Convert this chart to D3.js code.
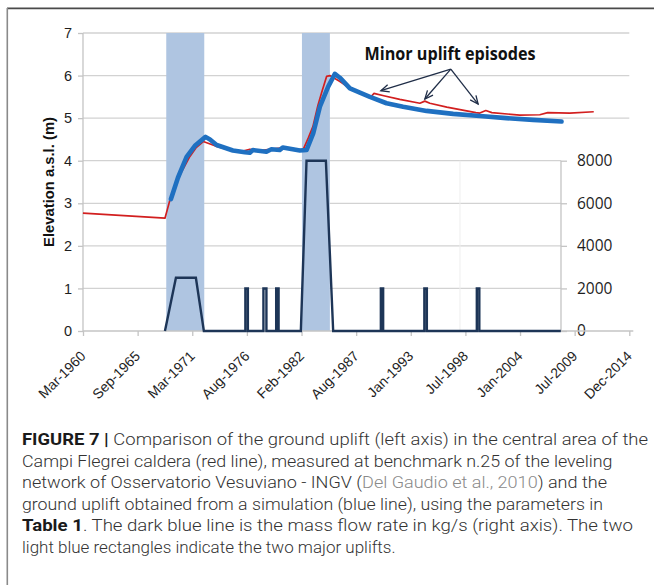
<!DOCTYPE html>
<html>
<head>
<meta charset="utf-8">
<script src="https://cdn.jsdelivr.net/npm/d3@7"></script>
<style>
  html, body { margin: 0; padding: 0; background: #fff; }
  svg { display: block; }
</style>
</head>
<body>
<svg id="fig" width="654" height="585"></svg>
<script>
// Ground uplift at Campi Flegrei: measured (red), simulated (blue), mass flow rate (dark blue)

// Measured elevation (benchmark n.25), decimal year / metres
const redYears = [1960.21, 1968.43, 1968.93, 1969.53, 1970.23, 1970.93, 1971.53, 1972.27, 1973.44, 1974.44,
  1975.62, 1976.15, 1976.95, 1977.95, 1978.95, 1980.16, 1981.46, 1982.26, 1982.79, 1983.26,
  1983.76, 1984.16, 1984.63, 1984.96, 1985.97, 1986.97, 1987.97, 1989.07, 1989.37, 1990.47,
  1991.97, 1993.98, 1994.48, 1994.98, 1996.68, 1999.59, 1999.99, 2000.59, 2001.19, 2004.0,
  2006.0, 2006.8, 2009.0, 2011.41];
const redElev = [2.77, 2.65, 3.08, 3.5, 3.8, 4.1, 4.3, 4.45, 4.35, 4.28,
  4.21, 4.22, 4.27, 4.24, 4.27, 4.30, 4.27, 4.25, 4.53, 4.80,
  5.3, 5.62, 5.98, 6.0, 5.86, 5.70, 5.58, 5.50, 5.58, 5.52,
  5.44, 5.35, 5.40, 5.35, 5.26, 5.13, 5.12, 5.18, 5.13, 5.07,
  5.08, 5.13, 5.12, 5.15];

// Simulated elevation, decimal year / metres
const blueYears = [1969.03, 1969.73, 1970.6, 1971.43, 1972.5, 1972.94, 1973.61, 1975.24, 1976.44, 1976.94,
  1977.24, 1978.6, 1979.1, 1979.94, 1980.24, 1981.95, 1982.62, 1983.29, 1983.96, 1984.79,
  1985.46, 1985.96, 1986.97, 1988.97, 1990.64, 1992.3, 1994.65, 1997.32, 1999.99, 2002.66,
  2005.33, 2008.18];
const blueElev = [3.1, 3.6, 4.09, 4.35, 4.56, 4.5, 4.37, 4.24, 4.2, 4.19,
  4.25, 4.21, 4.27, 4.25, 4.31, 4.24, 4.25, 4.64, 5.27, 5.74,
  6.04, 5.95, 5.70, 5.50, 5.35, 5.27, 5.17, 5.10, 5.05, 5.00,
  4.96, 4.92];

// Mass flow rate (kg/s), decimal year
const flowYears = [1968.43, 1969.53, 1971.53, 1972.33,
  1976.49, 1976.49, 1976.74, 1976.74,
  1978.30, 1978.30, 1978.60, 1978.60,
  1979.58, 1979.58, 1979.82, 1979.82,
  1982.05, 1982.62, 1984.56, 1985.29,
  1990.07, 1990.07, 1990.30, 1990.30,
  1994.43, 1994.43, 1994.68, 1994.68,
  1999.69, 1999.69, 1999.94, 1999.94,
  2008.11];
const flowRate = [0, 2500, 2500, 0,
  0, 2000, 2000, 0,
  0, 2000, 2000, 0,
  0, 2000, 2000, 0,
  0, 8000, 8000, 0,
  0, 2000, 2000, 0,
  0, 2000, 2000, 0,
  0, 2000, 2000, 0,
  0];

// Major uplift periods (decimal years)
const bandStart = [1968.56, 1982.16];
const bandEnd = [1972.37, 1984.96];

// Axis ticks
const xTickLabels = ["Mar-1960", "Sep-1965", "Mar-1971", "Aug-1976", "Feb-1982", "Aug-1987",
  "Jan-1993", "Jul-1998", "Jan-2004", "Jul-2009", "Dec-2014"];
const leftTicks = [0, 1, 2, 3, 4, 5, 6, 7];
const rightTicks = [0, 2000, 4000, 6000, 8000];

// Annotation: label and arrow targets, decimal year / metres
const noteText = "Minor uplift episodes";
const noteAt = [1997.0, 6.37];
const arrowFrom = [1997.08, 6.15];
const arrowToYears = [1990.07, 1994.48, 1999.82];
const arrowToElev = [5.645, 5.45, 5.33];

// Caption lines: [text, style] segments
const captionLines = [
  [["FIGURE 7 | ", "b"], ["Comparison of the ground uplift (left axis) in the central area of the", ""]],
  [["Campi Flegrei caldera (red line), measured at benchmark n.25 of the leveling", ""]],
  [["network of Osservatorio Vesuviano - INGV (", ""], ["Del Gaudio et al., 2010", "link"], [") and the", ""]],
  [["ground uplift obtained from a simulation (blue line), using the parameters in", ""]],
  [["Table 1", "b"], [".  The dark blue line is the mass flow rate in kg/s (right axis). The two", ""]],
  [["light blue rectangles indicate the two major uplifts.", ""]]
];
const captionWidths = [626, 590.5, 585, 581, 611, null];

// ---------- layout ----------
const plotLeft = 83, plotRight = 629.3, plotTop = 33, plotBottom = 331;
const flowRight = 561, flowTop = 160.7;

function toDate(v) {
  const y = Math.floor(v);
  const s = Date.UTC(y, 0, 1), e = Date.UTC(y + 1, 0, 1);
  return new Date(s + (v - y) * (e - s));
}

const axisStart = new Date(Date.UTC(1960, 2, 20));
const axisEnd = d3.utcDay.offset(axisStart, 20000);
const x = d3.scaleUtc().domain([axisStart, axisEnd]).range([plotLeft, plotRight]);
const yL = d3.scaleLinear().domain([0, 7]).range([plotBottom, plotTop]);
const yR = d3.scaleLinear().domain([0, 8000]).range([plotBottom, flowTop]);
const xTickDates = xTickLabels.map((_, i) => d3.utcDay.offset(axisStart, 2000 * i));

const svg = d3.select("#fig");

// frame
svg.append("line").attr("x1", 7).attr("x2", 654).attr("y1", 8.3).attr("y2", 8.3)
  .attr("stroke", "#4a4a4a").attr("stroke-width", 1.8);
svg.append("line").attr("x1", 7.3).attr("x2", 7.3).attr("y1", 8).attr("y2", 585)
  .attr("stroke", "#8a8a8a").attr("stroke-width", 1.6);

// gridlines (upper ones span the full plot; lower ones stop at the flow axis)
const grid = svg.append("g");
leftTicks.filter(d => d > 0).forEach(d => {
  grid.append("line")
    .attr("x1", plotLeft).attr("x2", d >= 5 ? plotRight : flowRight)
    .attr("y1", yL(d)).attr("y2", yL(d))
    .attr("stroke", "#d2d2d2").attr("stroke-width", 1.3);
});
grid.append("line")
  .attr("x1", x(toDate(1998.0))).attr("x2", x(toDate(1998.0)))
  .attr("y1", flowTop).attr("y2", plotBottom)
  .attr("stroke", "#eeeeee").attr("stroke-width", 1);

// major uplift bands
svg.append("g").selectAll("rect").data(bandStart).join("rect")
  .attr("x", (d) => x(toDate(d)))
  .attr("width", (d, i) => x(toDate(bandEnd[i])) - x(toDate(d)))
  .attr("y", yL(7)).attr("height", yL(0) - yL(7))
  .attr("fill", "#afc5e1");

// left axis
const axL = svg.append("g").attr("transform", `translate(${plotLeft},0)`)
  .call(d3.axisLeft(yL).tickValues(leftTicks).tickSize(5).tickPadding(6).tickFormat(d3.format("d")));
axL.select(".domain").attr("stroke", "#c4c4c4").attr("stroke-width", 1.3).attr("d", `M-0,${plotTop}V${plotBottom}`);
axL.selectAll(".tick line").attr("stroke", "#c4c4c4").attr("stroke-width", 1.3);
axL.selectAll(".tick text").attr("font-family", "Liberation Sans, Arial, sans-serif")
  .attr("font-size", 14.5).attr("fill", "#1e1e1e");

// right axis (mass flow)
const axR = svg.append("g").attr("transform", `translate(${flowRight},0)`)
  .call(d3.axisRight(yR).tickValues(rightTicks).tickSize(6).tickPadding(10).tickFormat(d3.format("d")));
axR.select(".domain").attr("stroke", "#c4c4c4").attr("stroke-width", 1.3).attr("d", `M0,${flowTop}V${plotBottom}`);
axR.selectAll(".tick line").attr("stroke", "#c4c4c4").attr("stroke-width", 1.3);
axR.selectAll(".tick text").attr("font-family", "Open Sans, Noto Sans, sans-serif")
  .attr("font-size", 15.5).attr("fill", "#1e1e1e");

// bottom axis
const axB = svg.append("g").attr("transform", `translate(0,${plotBottom})`)
  .call(d3.axisBottom(x).tickValues(xTickDates).tickSize(5).tickFormat((d, i) => xTickLabels[i]));
axB.select(".domain").attr("stroke", "#c4c4c4").attr("stroke-width", 1.3)
  .attr("d", `M${plotLeft},0H${plotRight + 4}`);
axB.selectAll(".tick line").attr("stroke", "#c4c4c4").attr("stroke-width", 1.3);
axB.selectAll(".tick text")
  .attr("font-family", "Liberation Sans, Arial, sans-serif").attr("font-size", 14)
  .attr("fill", "#1e1e1e")
  .attr("text-anchor", "end").attr("dy", null).attr("y", 0)
  .attr("transform", "translate(3,26) rotate(-45)");

// left axis title
svg.append("text")
  .attr("transform", `translate(53.5,182) rotate(-90)`)
  .attr("text-anchor", "middle")
  .attr("font-family", "Liberation Sans, Arial, sans-serif").attr("font-weight", "bold")
  .attr("font-size", 14.8).attr("fill", "#111")
  .text("Elevation a.s.l. (m)");

// mass flow rate
const flowLine = d3.line().x((d, i) => x(toDate(flowYears[i]))).y(d => yR(d));
svg.append("path").datum(flowRate).attr("d", flowLine)
  .attr("fill", "none").attr("stroke", "#1d3557").attr("stroke-width", 2.4)
  .attr("stroke-linejoin", "miter");

// measured and simulated elevation
const redLine = d3.line().x((d, i) => x(toDate(redYears[i]))).y(d => yL(d));
const blueLine = d3.line().x((d, i) => x(toDate(blueYears[i]))).y(d => yL(d));
svg.append("path").datum(redElev).attr("d", redLine)
  .attr("fill", "none").attr("stroke", "#d21f1f").attr("stroke-width", 1.7)
  .attr("stroke-linejoin", "round");
svg.append("path").datum(blueElev).attr("d", blueLine)
  .attr("fill", "none").attr("stroke", "#1f70c1").attr("stroke-width", 4.6)
  .attr("stroke-linejoin", "round").attr("stroke-linecap", "round");

// annotation
svg.append("text")
  .attr("x", x(toDate(noteAt[0]))).attr("y", yL(noteAt[1]))
  .attr("text-anchor", "middle")
  .attr("font-family", "Open Sans, Noto Sans, sans-serif").attr("font-weight", "bold")
  .attr("font-size", 17.5).attr("fill", "#111")
  .attr("textLength", 171).attr("lengthAdjust", "spacingAndGlyphs")
  .text(noteText);

const ax0 = x(toDate(arrowFrom[0])), ay0 = yL(arrowFrom[1]);
const arrows = svg.append("g").attr("stroke", "#1f2d47").attr("stroke-width", 1.3).attr("fill", "none");
arrowToYears.forEach((yr, i) => {
  const tx = x(toDate(yr)), ty = yL(arrowToElev[i]);
  arrows.append("line").attr("x1", ax0).attr("y1", ay0).attr("x2", tx).attr("y2", ty);
  const ang = Math.atan2(ty - ay0, tx - ax0);
  const L = 9, spread = 0.42;
  const p1 = [tx - L * Math.cos(ang - spread), ty - L * Math.sin(ang - spread)];
  const p2 = [tx - L * Math.cos(ang + spread), ty - L * Math.sin(ang + spread)];
  arrows.append("path").attr("d", `M${p1[0]},${p1[1]}L${tx},${ty}L${p2[0]},${p2[1]}`);
});

// caption
const cap = svg.append("g")
  .attr("font-family", "Roboto, Liberation Sans, Arial, sans-serif")
  .attr("font-weight", 300)
  .attr("font-size", 17).attr("fill", "#333");
const baselines = [445, 466.5, 488, 509.5, 531, 552.5];
captionLines.forEach((segs, i) => {
  const t = cap.append("text").attr("x", 22).attr("y", baselines[i]);
  if (captionWidths[i]) t.attr("textLength", captionWidths[i]).attr("lengthAdjust", "spacingAndGlyphs");
  segs.forEach(([str, style]) => {
    const s = t.append("tspan").text(str);
    if (style === "b") s.attr("font-weight", "bold").attr("fill", "#1a1a1a");
    if (style === "link") s.attr("fill", "#8a8a8a");
  });
});
</script>
</body>
</html>
